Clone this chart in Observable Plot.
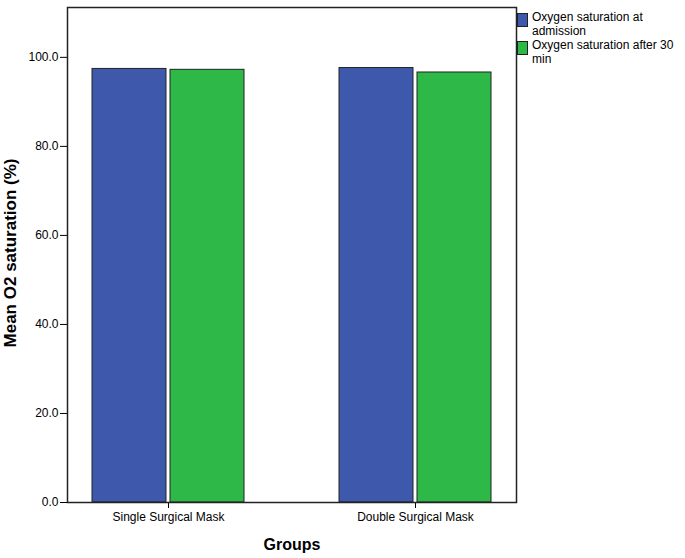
<!DOCTYPE html>
<html>
<head>
<meta charset="utf-8">
<script src="https://cdn.jsdelivr.net/npm/d3@7"></script>
<script src="https://cdn.jsdelivr.net/npm/@observablehq/plot@0.6"></script>
<style>
  body { margin: 0; background: #fff; }
  #wrap { position: relative; width: 685px; height: 558px; font-family: "Liberation Sans", Arial, sans-serif; }
  #legend { position: absolute; left: 517px; top: 10px; font-size: 12px; line-height: 14px; color: #000; }
  .item { display: flex; align-items: flex-start; margin-bottom: 0px; }
  .sw { width: 9px; height: 12px; border: 1px solid #222; margin-right: 4px; margin-top: 3px; flex: none; }
  .line { white-space: nowrap; }
</style>
</head>
<body>
<div id="wrap"><div id="legend"></div></div>
<script>
const groups = ["Single Surgical Mask", "Double Surgical Mask"];
const seriesNames = ["Oxygen saturation at admission", "Oxygen saturation after 30 min"];
const admission = [97.4, 97.6];
const after30 = [97.2, 96.6];
const colors = ["#3E58AC", "#2EB848"];
const yTicks = [0, 20, 40, 60, 80, 100];

const dataA = groups.map((g, i) => ({group: g, value: admission[i]}));
const dataB = groups.map((g, i) => ({group: g, value: after30[i]}));

const chart = Plot.plot({
  width: 685,
  height: 558,
  marginLeft: 67,
  marginRight: 169,
  marginTop: 7,
  marginBottom: 56,
  style: {fontFamily: "'Liberation Sans', Arial, sans-serif", fontSize: "12px", color: "#000", background: "#fff"},
  x: {domain: groups, paddingInner: 0.385, paddingOuter: 0.101, label: null},
  y: {domain: [0, 111.2], label: null},
  marks: [
    Plot.barY(dataA, {x: "group", y: "value", fill: colors[0], stroke: "#222", strokeWidth: 1, insetRight: 78}),
    Plot.barY(dataB, {x: "group", y: "value", fill: colors[1], stroke: "#222", strokeWidth: 1, insetLeft: 78}),
    Plot.axisY({ticks: yTicks, tickFormat: d3.format(".1f"), tickSize: 7, tickPadding: 2, tickStrokeWidth: 1.5, label: null, fontSize: 12}),
    Plot.axisX({tickSize: 6, tickPadding: 4, label: null, fontSize: 12}),
    Plot.frame({stroke: "#222", strokeWidth: 1.5}),
    Plot.text(["Mean O2 saturation (%)"], {frameAnchor: "left", textAnchor: "middle", rotate: -90, dx: -57, dy: -2, fontWeight: "bold", fontSize: 17}),
    Plot.text(["Groups"], {frameAnchor: "bottom", dy: 47, fontWeight: "bold", fontSize: 16})
  ]
});
document.getElementById("wrap").prepend(chart);

const legend = document.getElementById("legend");
const legendLines = [["Oxygen saturation at", "admission"], ["Oxygen saturation after 30", "min"]];
legendLines.forEach((lines, i) => {
  const item = document.createElement("div");
  item.className = "item";
  const sw = document.createElement("div");
  sw.className = "sw";
  sw.style.background = colors[i];
  const t = document.createElement("div");
  lines.forEach(l => {
    const d = document.createElement("div");
    d.className = "line";
    d.textContent = l;
    t.append(d);
  });
  item.append(sw, t);
  legend.append(item);
});
</script>
</body>
</html>
